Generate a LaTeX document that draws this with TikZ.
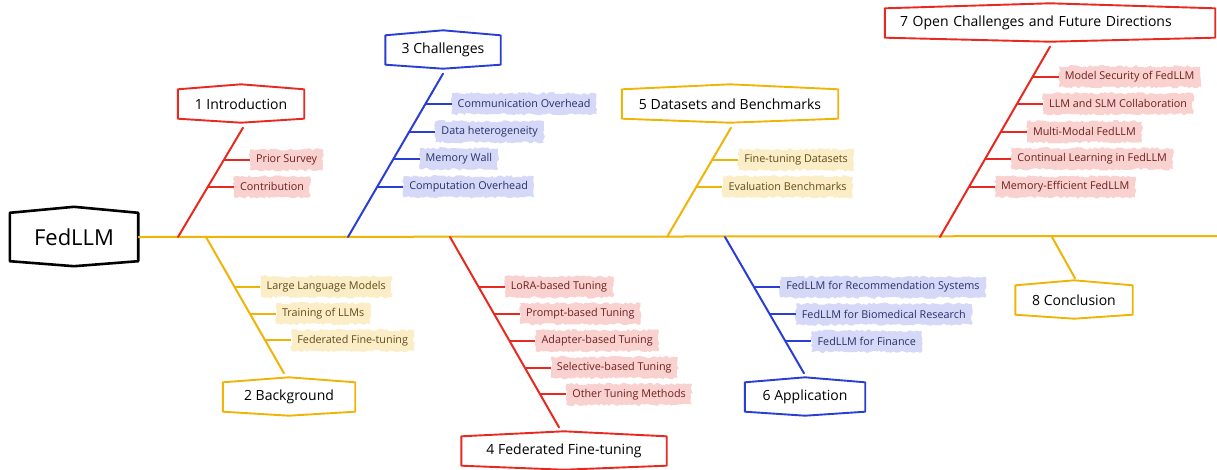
\documentclass[tikz,border=0pt]{standalone}
\usepackage{fontspec}
\setmainfont{Open Sans}
\usetikzlibrary{calc,decorations.pathmorphing}
\definecolor{cred}{HTML}{E8291F}
\definecolor{cblue}{HTML}{2A3ED4}
\definecolor{cgold}{HTML}{F0B409}
\definecolor{fred}{HTML}{F9D2CF}
\definecolor{fblue}{HTML}{D5D9F7}
\definecolor{fgold}{HTML}{FBEDC6}
\definecolor{tred}{HTML}{6E1F1F}
\definecolor{tblue}{HTML}{27306C}
\definecolor{tgold}{HTML}{5F4C1C}
\newcommand\topicframe[2]{%
  \draw[line width=1.9pt, draw=#2, line join=round]
    (#1.south west) -- (#1.north west) -- ($(#1.north)+(0,-5)$) -- (#1.north east)
    -- (#1.south east) -- ($(#1.south)+(0,4)$) -- cycle;}
\begin{document}
\begin{tikzpicture}[x=1pt,y=-1pt,
  bone/.style={line width=2pt, line cap=round},
  branch/.style={line width=2pt},
  topic/.style={font=\fontsize{14}{16}\selectfont, text=black, minimum height=29pt, inner sep=0pt},
  itembase/.style={font=\fontsize{10.8}{12}\selectfont, anchor=west, minimum height=21pt,
     inner xsep=6pt, inner ysep=0pt,
     decorate, decoration={random steps, segment length=2.5pt, amplitude=1.2pt}},
  ritem/.style={itembase, fill=fred, text=tred},
  bitem/.style={itembase, fill=fblue, text=tblue},
  gitem/.style={itembase, fill=fgold, text=tgold},
]
\useasboundingbox (0,0) rectangle (1217,469);

% main node
\node[font=\fontsize{22}{24}\selectfont, minimum width=128pt, minimum height=48pt, inner sep=0pt] (root) at (74,237) {FedLLM};
\draw[line width=2.6pt, line join=round]
  (root.south west) -- (root.north west) -- ($(root.north)+(0,-6)$) -- (root.north east)
  -- (root.south east) -- ($(root.south)+(0,5)$) -- cycle;

% spine
\coordinate (send) at (1217,236);
\draw[line width=2pt, cgold] (root.east) -- (send);
\coordinate (s1) at (178,237);
\coordinate (s3) at (348,237);
\coordinate (s5) at (667,237);
\coordinate (s7) at (940,237);
\coordinate (s2) at (206,237);
\coordinate (s4) at (450,237);
\coordinate (s6) at (725,237);
\coordinate (s8) at (1052,237);

% topic boxes
\node[topic, minimum width=126pt] (T1) at (241,104) {1 Introduction};
\node[topic, minimum width=115pt] (T3) at (443,50) {3 Challenges};
\node[topic, minimum width=216pt] (T5) at (730,104) {5 Datasets and Benchmarks};
\node[topic, minimum width=330pt, text width=300pt, align=left] (T7) at (1050,23) {7 Open Challenges and Future Directions};
\node[topic, minimum width=132pt] (T2) at (289,397) {2 Background};
\node[topic, minimum width=205pt] (T4) at (564,451) {4 Federated Fine-tuning};
\node[topic, minimum width=120pt] (T6) at (805,397) {6 Application};
\node[topic, minimum width=117pt] (T8) at (1074,300) {8 Conclusion};
\topicframe{T1}{cred}
\topicframe{T3}{cblue}
\topicframe{T5}{cgold}
\topicframe{T7}{cred}
\topicframe{T2}{cgold}
\topicframe{T4}{cred}
\topicframe{T6}{cblue}
\topicframe{T8}{cgold}

% bones
\coordinate (b1) at ($(T1.south)+(2,9)$);
\coordinate (b3) at ($(T3.south)+(0,9)$);
\coordinate (b5) at ($(T5.south)+(1,9)$);
\coordinate (b7) at ($(T7.south)+(0,9)$);
\coordinate (b2) at ($(T2.north)+(-5,-9)$);
\coordinate (b4) at ($(T4.north)+(-5,-9)$);
\coordinate (b6) at ($(T6.north)+(-1,-9)$);
\coordinate (b8) at ($(T8.north)+(1,-7)$);
\draw[bone, cred] (b1) -- (s1);
\draw[bone, cblue] (b3) -- (s3);
\draw[bone, cgold] (b5) -- (s5);
\draw[bone, cred] (b7) -- (s7);
\draw[bone, cgold] (s2) -- (b2);
\draw[bone, cred] (s4) -- (b4);
\draw[bone, cblue] (s6) -- (b6);
\draw[bone, cgold] (s8) -- (b8);

% branch points
\path (b1) -- (s1) coordinate[pos=.294] (c11) coordinate[pos=.541] (c12);
\path (b3) -- (s3) coordinate[pos=.184] (c31) coordinate[pos=.356] (c32) coordinate[pos=.521] (c33) coordinate[pos=.693] (c34);
\path (b5) -- (s5) coordinate[pos=.294] (c51) coordinate[pos=.541] (c52);
\path (b7) -- (s7) coordinate[pos=.158] (c71) coordinate[pos=.300] (c72) coordinate[pos=.447] (c73) coordinate[pos=.589] (c74) coordinate[pos=.737] (c75);
\path (s2) -- (b2) coordinate[pos=.365] (c21) coordinate[pos=.562] (c22) coordinate[pos=.759] (c23);
\path (s4) -- (b4) coordinate[pos=.262] (c41) coordinate[pos=.403] (c42) coordinate[pos=.545] (c43) coordinate[pos=.686] (c44) coordinate[pos=.827] (c45);
\path (s6) -- (b6) coordinate[pos=.368] (c61) coordinate[pos=.566] (c62) coordinate[pos=.765] (c63);

% items
\node[ritem] (i11) at ([xshift=26]c11) {Prior Survey};
\node[ritem] (i12) at ([xshift=26]c12) {Contribution};
\node[bitem] (i31) at ([xshift=26]c31) {Communication Overhead};
\node[bitem] (i32) at ([xshift=26]c32) {Data heterogeneity};
\node[bitem] (i33) at ([xshift=26]c33) {Memory Wall};
\node[bitem] (i34) at ([xshift=26]c34) {Computation Overhead};
\node[gitem] (i51) at ([xshift=26]c51) {Fine-tuning Datasets};
\node[gitem] (i52) at ([xshift=26]c52) {Evaluation Benchmarks};
\node[ritem] (i71) at ([xshift=26]c71) {Model Security of FedLLM};
\node[ritem] (i72) at ([xshift=26]c72) {LLM and SLM Collaboration};
\node[ritem] (i73) at ([xshift=26]c73) {Multi-Modal FedLLM};
\node[ritem] (i74) at ([xshift=26]c74) {Continual Learning in FedLLM};
\node[ritem] (i75) at ([xshift=26]c75) {Memory-Efficient FedLLM};
\node[gitem] (i21) at ([xshift=26]c21) {Large Language Models};
\node[gitem] (i22) at ([xshift=26]c22) {Training of LLMs};
\node[gitem] (i23) at ([xshift=26]c23) {Federated Fine-tuning};
\node[ritem] (i41) at ([xshift=26]c41) {LoRA-based Tuning};
\node[ritem] (i42) at ([xshift=26]c42) {Prompt-based Tuning};
\node[ritem] (i43) at ([xshift=26]c43) {Adapter-based Tuning};
\node[ritem] (i44) at ([xshift=26]c44) {Selective-based Tuning};
\node[ritem] (i45) at ([xshift=26]c45) {Other Tuning Methods};
\node[bitem] (i61) at ([xshift=26]c61) {FedLLM for Recommendation Systems};
\node[bitem] (i62) at ([xshift=26]c62) {FedLLM for Biomedical Research};
\node[bitem] (i63) at ([xshift=26]c63) {FedLLM for Finance};

% branches
\foreach \cc/\ii in {c11/i11,c12/i12,c41/i41,c42/i42,c43/i43,c44/i44,c45/i45,c71/i71,c72/i72,c73/i73,c74/i74,c75/i75}
  \draw[branch, cred] (\cc) -- (\ii);
\foreach \cc/\ii in {c31/i31,c32/i32,c33/i33,c34/i34,c61/i61,c62/i62,c63/i63}
  \draw[branch, cblue] (\cc) -- (\ii);
\foreach \cc/\ii in {c51/i51,c52/i52,c21/i21,c22/i22,c23/i23}
  \draw[branch, cgold] (\cc) -- (\ii);
\end{tikzpicture}
\end{document}
